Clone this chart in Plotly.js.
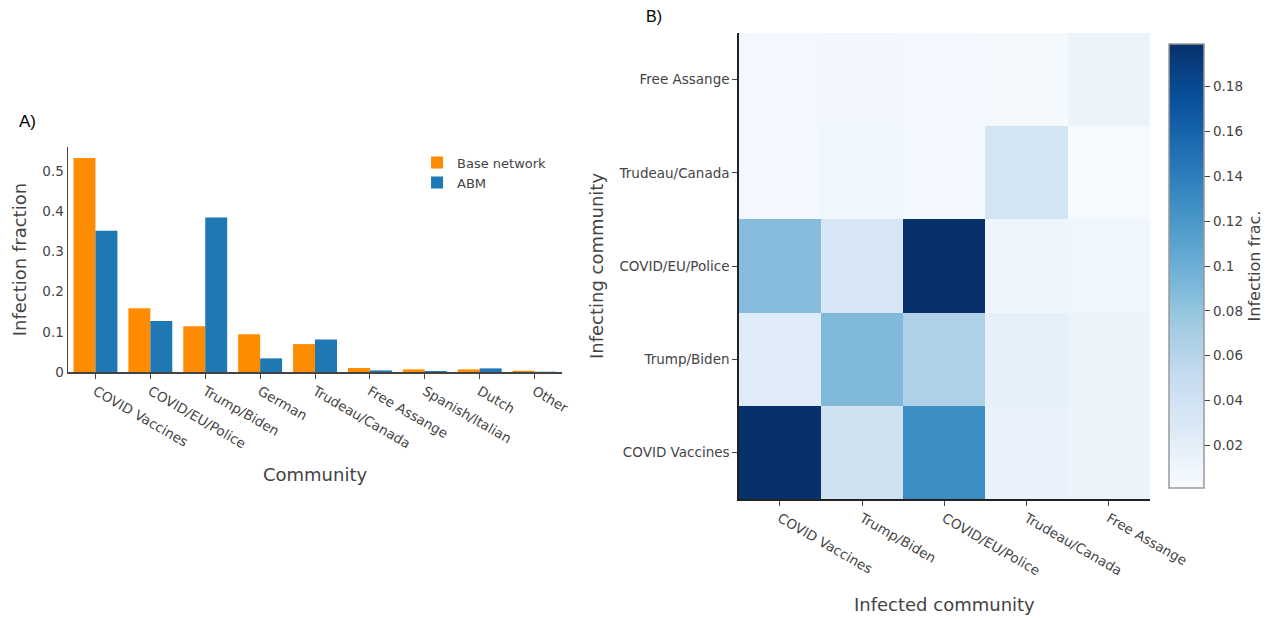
<!DOCTYPE html>
<html>
<head>
<meta charset="utf-8">
<script src="https://cdn.plot.ly/plotly-3.0.1.min.js"></script>
<style>html,body{margin:0;padding:0;background:#fff;}#chart{width:1277px;height:619px;}</style>
</head>
<body>
<div id="chart"></div>
<script>
// Panel A data
const communities = ["COVID Vaccines","COVID/EU/Police","Trump/Biden","German","Trudeau/Canada","Free Assange","Spanish/Italian","Dutch","Other"];
const baseNetwork = [0.533,0.159,0.114,0.094,0.0695,0.0099,0.0066,0.0066,0.003];
const abm = [0.352,0.127,0.385,0.034,0.081,0.004,0.0025,0.009,0.0005];

// Panel B data
const infectedCommunities = ["COVID Vaccines","Trump/Biden","COVID/EU/Police","Trudeau/Canada","Free Assange"];
const infectingCommunities = ["COVID Vaccines","Trump/Biden","COVID/EU/Police","Trudeau/Canada","Free Assange"];
// rows = infecting (bottom to top), cols = infected
const rowCovidVaccines = [0.199,0.040,0.128,0.015,0.012];
const rowTrumpBiden = [0.024,0.090,0.065,0.018,0.013];
const rowCovidEuPolice = [0.087,0.034,0.199,0.010,0.008];
const rowTrudeauCanada = [0.006,0.009,0.006,0.037,0.003];
const rowFreeAssange = [0.006,0.007,0.006,0.004,0.012];

const blues = [[0,'rgb(247,251,255)'],[0.125,'rgb(222,235,247)'],[0.25,'rgb(198,219,239)'],[0.375,'rgb(158,202,225)'],[0.5,'rgb(107,174,214)'],[0.625,'rgb(66,146,198)'],[0.75,'rgb(33,113,181)'],[0.875,'rgb(8,81,156)'],[1,'rgb(8,48,107)']];

const font = "'DejaVu Sans', Verdana, sans-serif";
const grey = '#444';
const tickSize = 13.5;

const traces = [
  {type:'bar', name:'Base network', x:communities, y:baseNetwork, marker:{color:'rgb(255,140,0)'}, xaxis:'x', yaxis:'y'},
  {type:'bar', name:'ABM', x:communities, y:abm, marker:{color:'#1f77b4'}, xaxis:'x', yaxis:'y'},
  {type:'heatmap', x:infectedCommunities, y:infectingCommunities,
   z:[rowCovidVaccines,rowTrumpBiden,rowCovidEuPolice,rowTrudeauCanada,rowFreeAssange],
   zmin:0.001, zmax:0.199, colorscale:blues, xaxis:'x2', yaxis:'y2', showlegend:false,
   colorbar:{x:1.0175, xanchor:'left', xpad:0, y:0.5, yanchor:'middle', len:464, lenmode:'pixels', ypad:10,
     thickness:35, outlinecolor:'#999', outlinewidth:1.5,
     tickvals:[0.02,0.04,0.06,0.08,0.1,0.12,0.14,0.16,0.18], ticks:'outside', ticklen:6, tickcolor:grey,
     tickfont:{size:tickSize,color:grey,family:font},
     title:{text:'Infection frac.', side:'right', font:{size:16,color:grey,family:font}}}}
];

const layout = {
  width:1277, height:619,
  margin:{l:68, r:125, t:33, b:120},
  paper_bgcolor:'#fff', plot_bgcolor:'#fff',
  font:{family:font, color:grey},
  barmode:'group',
  showlegend:true,
  legend:{x:0.3226, y:0.754, xanchor:'left', yanchor:'top', font:{size:13,color:grey}, bgcolor:'rgba(0,0,0,0)'},
  xaxis:{domain:[0,0.4566], anchor:'y', showline:true, linecolor:grey, linewidth:1.5, ticks:'outside', ticklen:5, tickcolor:grey,
    tickangle:30, tickfont:{size:tickSize,color:grey}, showgrid:false,
    title:{text:'Community', font:{size:18,color:grey}, standoff:18}},
  yaxis:{domain:[0.2725,0.755], anchor:'x', range:[0,0.56], showline:true, linecolor:grey, linewidth:1.5, showgrid:false, zeroline:false,
    tickvals:[0,0.1,0.2,0.3,0.4,0.5], ticktext:['0','0.1','0.2','0.3','0.4','0.5'], tickfont:{size:tickSize,color:grey},
    title:{text:'Infection fraction', font:{size:18,color:grey}, standoff:11}},
  xaxis2:{domain:[0.6199,1], anchor:'y2', showline:true, linecolor:'#222', linewidth:1.5, ticks:'outside', ticklen:5, tickcolor:grey,
    tickangle:30, tickfont:{size:tickSize,color:grey}, showgrid:false,
    title:{text:'Infected community', font:{size:18,color:grey}, standoff:21}},
  yaxis2:{domain:[0,1], anchor:'x2', showline:true, linecolor:'#222', linewidth:1.5, ticks:'outside', ticklen:5, tickcolor:grey,
    tickfont:{size:tickSize,color:grey}, showgrid:false,
    title:{text:'Infecting community', font:{size:18,color:grey}, standoff:10}},
  annotations:[
    {text:'A)', xref:'paper', yref:'paper', x:-0.047, y:0.81, xanchor:'left', yanchor:'middle', showarrow:false, font:{size:17,color:'#000', family:'Liberation Sans, Arial, sans-serif'}},
    {text:'B)', xref:'paper', yref:'paper', x:0.532, y:1.035, xanchor:'left', yanchor:'middle', showarrow:false, font:{size:16,color:'#000', family:'Liberation Sans, Arial, sans-serif'}}
  ]
};

Plotly.newPlot('chart', traces, layout, {displayModeBar:false, staticPlot:true});
</script>
</body>
</html>
